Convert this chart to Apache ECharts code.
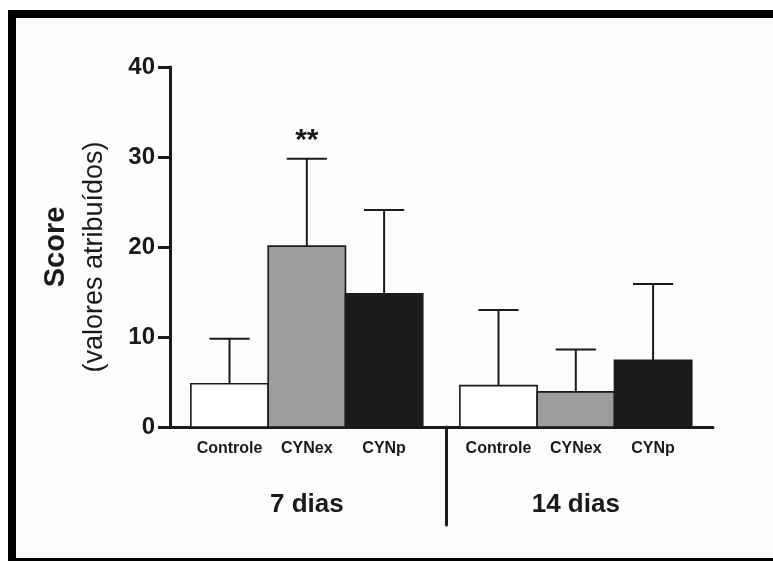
<!DOCTYPE html>
<html>
<head>
<meta charset="utf-8">
<script src="https://cdn.jsdelivr.net/npm/echarts@6/dist/echarts.min.js"></script>
<style>
  html, body { margin: 0; padding: 0; background: #ffffff; }
  #chart { width: 773px; height: 561px; }
</style>
</head>
<body>
<div id="chart"></div>
<script>
// Treatment groups and time points
const categories = ['Controle', 'CYNex', 'CYNp'];
const timePoints = ['7 dias', '14 dias'];

// Mean score and standard deviation for each treatment
const mean7 = [4.8, 20.1, 14.8];
const sd7 = [5.0, 9.7, 9.3];
const mean14 = [4.6, 3.9, 7.4];
const sd14 = [8.4, 4.7, 8.5];

// Significance marks above the error bars
const marks7 = ['', '**', ''];
const marks14 = ['', '', ''];

// Y axis ticks
const yTicks = [0, 10, 20, 30, 40];

// Layout in bar-width units along the x axis
const LEFT_PAD = 0.27;
const GROUP_GAP = 0.48;
const SEP_SHIFT = 0.31;
const X_MAX = 7.025;

const FONT = '"Liberation Sans", Arial, Helvetica, sans-serif';
const INK = '#1a1a1a';
const fills = ['#ffffff', '#9b9c9b', '#1b1b1b'];

const groupMeans = [mean7, mean14];
const groupSds = [sd7, sd14];
const groupMarks = [marks7, marks14];

const barCenters = [];
const barLabels = [];
const barData = [];
timePoints.forEach((tp, g) => {
  categories.forEach((cat, i) => {
    const cx = LEFT_PAD + g * (categories.length + GROUP_GAP) + i + 0.5;
    barCenters.push(cx);
    barLabels.push(cat);
    barData.push([cx, groupMeans[g][i], groupSds[g][i], i, groupMarks[g][i]]);
  });
});
const groupCenters = timePoints.map((tp, g) =>
  LEFT_PAD + g * (categories.length + GROUP_GAP) + categories.length / 2);
const sepX = LEFT_PAD + categories.length + SEP_SHIFT;

function lookup(values, names, v) {
  for (let k = 0; k < values.length; k++) {
    if (Math.abs(values[k] - v) < 1e-6) return names[k];
  }
  return '';
}

const chart = echarts.init(document.getElementById('chart'), null, { renderer: 'canvas' });

chart.setOption({
  backgroundColor: '#ffffff',
  animation: false,
  graphic: [
    { type: 'rect', z: -20, silent: true,
      shape: { x: 8, y: 10, width: 765, height: 551 }, style: { fill: '#000000' } },
    { type: 'rect', z: -19, silent: true,
      shape: { x: 16, y: 18, width: 757, height: 540 }, style: { fill: '#fdfdfb' } }
  ],
  grid: { left: 170, right: 60, top: 67, bottom: 134, containLabel: false },
  xAxis: [
    {
      type: 'value', min: 0, max: X_MAX,
      axisLine: { show: true, lineStyle: { color: INK, width: 3 } },
      axisTick: { show: true, customValues: [sepX], length: 98,
        lineStyle: { color: INK, width: 3, cap: 'round' } },
      axisLabel: {
        customValues: barCenters,
        formatter: v => lookup(barCenters, barLabels, v),
        margin: 14, color: INK, fontFamily: FONT, fontWeight: 'bold', fontSize: 16
      },
      splitLine: { show: false }
    },
    {
      type: 'value', min: 0, max: X_MAX, position: 'bottom',
      axisLine: { show: false }, axisTick: { show: false }, splitLine: { show: false },
      axisLabel: {
        customValues: groupCenters,
        formatter: v => lookup(groupCenters, timePoints, v),
        margin: 65, color: INK, fontFamily: FONT, fontWeight: 'bold', fontSize: 26
      }
    }
  ],
  yAxis: {
    type: 'value', min: yTicks[0], max: yTicks[yTicks.length - 1], interval: 10,
    axisLine: { show: true, lineStyle: { color: INK, width: 3 } },
    axisTick: { show: true, length: 12, lineStyle: { color: INK, width: 3 } },
    axisLabel: { margin: 15, color: INK, fontFamily: FONT, fontWeight: 'bold', fontSize: 24 },
    splitLine: { show: false },
    name: '{a|Score}\n{b|(valores atribuídos)}',
    nameLocation: 'middle',
    nameRotate: 90,
    nameGap: 57,
    nameTextStyle: {
      color: INK, fontFamily: FONT, align: 'center',
      rich: {
        a: { fontFamily: FONT, fontWeight: 'bold', fontSize: 29, lineHeight: 42, color: INK },
        b: { fontFamily: FONT, fontWeight: 'normal', fontSize: 27, lineHeight: 36, color: INK,
             padding: [0, 20, 0, 0] }
      }
    }
  },
  series: [{
    type: 'custom',
    xAxisIndex: 0,
    yAxisIndex: 0,
    data: barData,
    z: 3,
    renderItem: function (params, api) {
      const x = api.value(0);
      const m = api.value(1);
      const s = api.value(2);
      const ci = api.value(3);
      const mark = barData[params.dataIndex][4];
      const base = api.coord([x, 0]);
      const top = api.coord([x, m]);
      const errTop = api.coord([x, m + s]);
      const w = api.size([1, 0])[0];
      const cap = w * 0.52;
      const children = [
        { type: 'line', shape: { x1: top[0], y1: top[1], x2: errTop[0], y2: errTop[1] },
          style: { stroke: INK, lineWidth: 2 } },
        { type: 'line', shape: { x1: errTop[0] - cap / 2, y1: errTop[1], x2: errTop[0] + cap / 2, y2: errTop[1] },
          style: { stroke: INK, lineWidth: 2 } },
        { type: 'rect', shape: { x: base[0] - w / 2, y: top[1], width: w, height: base[1] - top[1] },
          style: { fill: fills[ci], stroke: INK, lineWidth: 1.6 } }
      ];
      if (mark) {
        children.push({
          type: 'text',
          style: { text: mark, x: errTop[0], y: errTop[1] - 18, align: 'center', verticalAlign: 'middle',
                   font: 'bold 30px ' + FONT, fill: INK }
        });
      }
      return { type: 'group', children: children };
    }
  }]
});
</script>
</body>
</html>
